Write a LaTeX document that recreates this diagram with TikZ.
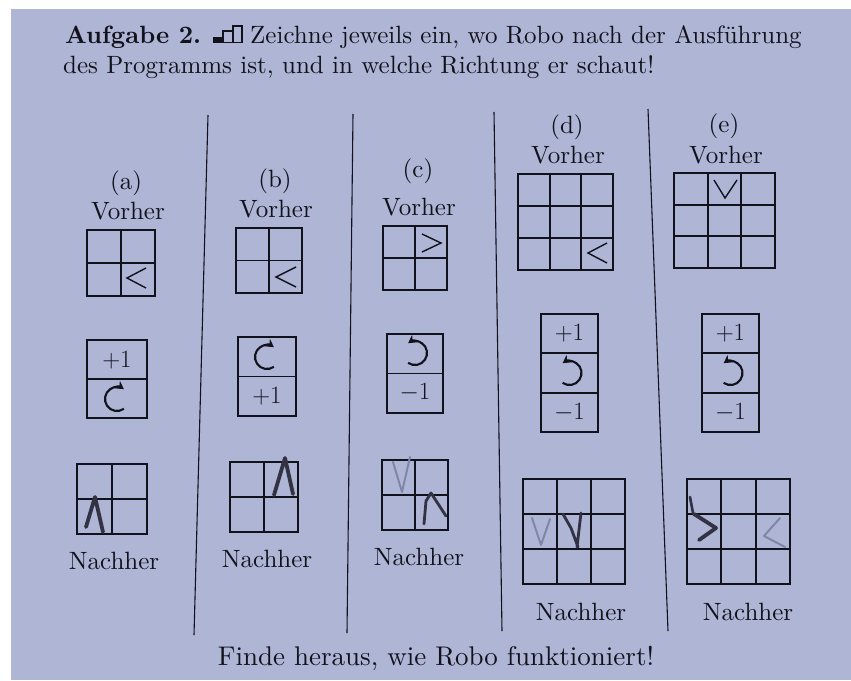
\documentclass[tikz,border=0pt]{standalone}
\usepackage{fontspec}
\setmainfont{lmroman10-regular.otf}[BoldFont=lmroman10-bold.otf]
\usetikzlibrary{arrows.meta}
\definecolor{paper}{RGB}{174,181,213}
\definecolor{ink}{RGB}{18,18,28}
\definecolor{pencil}{RGB}{50,50,66}
\definecolor{pencillight}{RGB}{128,134,168}
\tikzset{
  gridline/.style={draw=ink, line width=1.8pt},
  divider/.style={draw=ink, line width=1.1pt},
  lbl/.style={font=\fontsize{25}{30}\selectfont, text=ink, inner sep=0pt, anchor=base},
  celltxt/.style={font=\fontsize{25}{30}\selectfont, text=ink, inner sep=0pt},
  dirmark/.style={draw=ink, line width=1.4pt},
  hand/.style={draw=pencil, line width=3.8pt, line cap=round, line join=round},
  handlight/.style={draw=pencillight, line width=2pt, line cap=round, line join=round},
  rotarrow/.style={draw=ink, line width=2.1pt, -{Stealth[length=8pt,width=9pt]}},
}
\newcommand{\gridII}[4]{\draw[gridline] (#1,#2) rectangle (#3,#4)
  ({(#1+#3)/2},#2) -- ({(#1+#3)/2},#4) (#1,{(#2+#4)/2}) -- (#3,{(#2+#4)/2});}
\newcommand{\gridIII}[4]{\draw[gridline] (#1,#2) rectangle (#3,#4)
  ({#1+(#3-#1)/3},#2) -- ({#1+(#3-#1)/3},#4)
  ({#1+2*(#3-#1)/3},#2) -- ({#1+2*(#3-#1)/3},#4)
  (#1,{#2+(#4-#2)/3}) -- (#3,{#2+(#4-#2)/3})
  (#1,{#2+2*(#4-#2)/3}) -- (#3,{#2+2*(#4-#2)/3});}
\newcommand{\progII}[4]{\draw[gridline] (#1,#2) rectangle (#3,#4)
  (#1,{(#2+#4)/2}) -- (#3,{(#2+#4)/2});}
\newcommand{\progIII}[4]{\draw[gridline] (#1,#2) rectangle (#3,#4)
  (#1,{#2+(#4-#2)/3}) -- (#3,{#2+(#4-#2)/3})
  (#1,{#2+2*(#4-#2)/3}) -- (#3,{#2+2*(#4-#2)/3});}
\newcommand{\cwarrow}[2]{\begin{scope}[shift={(#1,#2)},y=1pt]
  \draw[rotarrow] (-55:12) arc[start angle=-55,end angle=-305,radius=12];\end{scope}}
\newcommand{\ccwarrow}[2]{\begin{scope}[shift={(#1,#2)},y=1pt]
  \draw[rotarrow] (-125:12) arc[start angle=-125,end angle=125,radius=12];\end{scope}}
\begin{document}
\begin{tikzpicture}[x=1pt,y=-1pt]
\useasboundingbox (0,0) rectangle (851,680);
\fill[white] (0,0) rectangle (851,680);
\fill[paper] (11,9) rectangle (851,680);

% title
\node[lbl, anchor=base west] (t1) at (65,43) {\textbf{Aufgabe 2.}};
\fill[ink] (213,37) rectangle (223,42.5);
\draw[ink, line width=1.5pt] (223,31) rectangle (233,42.5) (233,26) rectangle (242,42.5);
\node[lbl, anchor=base west] (t2) at (250,43) {Zeichne jeweils ein, wo Robo nach der Ausführung};
\node[lbl, anchor=base west] (t3) at (63,73) {des Programms ist, und in welche Richtung er schaut!};

% dividers
\draw[divider] (208,115) -- (194,635);
\draw[divider] (353,114) -- (347,633);
\draw[divider] (494,112) -- (502,631);
\draw[divider] (648,109) -- (668,631);

% ---------- (a)
\node[lbl] (la) at (126,189) {(a)};
\node[lbl] (va) at (128,219) {Vorher};
\gridII{87}{230}{155}{296}
\draw[dirmark] (146,268) -- (127,278) -- (146,288);
\progII{87}{340}{147}{418}
\node[celltxt] (pa1) at (117,360) {$+1$};
\cwarrow{117}{399}
\gridII{77}{464}{147}{534}
\draw[hand] (86,527) -- (95,497) -- (103,532);
\node[lbl] (na) at (114,569) {Nachher};

% ---------- (b)
\node[lbl] (lb) at (275,187) {(b)};
\node[lbl] (vb) at (276,217) {Vorher};
\gridII{236}{228}{302}{293}
\draw[dirmark] (296,267) -- (276,277) -- (296,287);
\progII{238}{337}{296}{416}
\cwarrow{267}{357}
\node[celltxt] (pb2) at (267,396) {$+1$};
\gridII{230}{462}{298}{532}
\draw[hand] (274,495) -- (285,458) -- (293,494);
\node[lbl] (nb) at (267,567) {Nachher};

% ---------- (c)
\node[lbl] (lc) at (418,177) {(c)};
\node[lbl] (vc) at (419,215) {Vorher};
\gridII{383}{226}{447}{290}
\draw[dirmark] (422,234) -- (441,243) -- (422,252);
\progII{387}{334}{443}{413}
\ccwarrow{415}{353}
\node[celltxt] (pc2) at (415,393) {$-1$};
\gridII{382}{460}{448}{530}
\draw[handlight] (393,462) -- (402,492) -- (410,457);
\draw[hand, line width=2.8pt] (424,524) -- (426,501) -- (431,493) -- (446,516);
\node[lbl] (nc) at (419,565) {Nachher};

% ---------- (d)
\node[lbl] (ld) at (567,133) {(d)};
\node[lbl] (vd) at (568,163) {Vorher};
\gridIII{518}{174}{613}{270}
\draw[dirmark] (607,243) -- (588,253) -- (607,263);
\progIII{541}{314}{598}{432}
\node[celltxt] (pd1) at (569.5,333.5) {$+1$};
\ccwarrow{569.5}{373}
\node[celltxt] (pd3) at (569.5,412.5) {$-1$};
\gridIII{523}{479}{625}{584}
\draw[handlight] (532,518) -- (541,545) -- (550,519);
\draw[hand, line width=2.8pt] (563,514) -- (571,528) -- (578,547) (581,513) -- (577,547);
\node[lbl] (nd) at (581,620) {Nachher};

% ---------- (e)
\node[lbl] (le) at (724,132) {(e)};
\node[lbl] (ve) at (726,163) {Vorher};
\gridIII{674}{173}{775}{268}
\draw[dirmark] (714,180) -- (725,198) -- (737,180);
\progIII{702}{314}{759}{432}
\node[celltxt] (pe1) at (730.5,333.5) {$+1$};
\ccwarrow{730.5}{373}
\node[celltxt] (pe3) at (730.5,412.5) {$-1$};
\gridIII{687}{479}{790}{584}
\draw[hand, line width=2.6pt] (690,497) -- (693,513);
\draw[hand] (694,514) -- (716,528) -- (699,540);
\draw[handlight] (780,518) -- (764,536) -- (785,547);
\node[lbl] (ne) at (748,620) {Nachher};

% bottom
\node[lbl, font=\fontsize{27}{32}\selectfont] (foot) at (436,665) {Finde heraus, wie Robo funktioniert!};
\end{tikzpicture}
\end{document}
